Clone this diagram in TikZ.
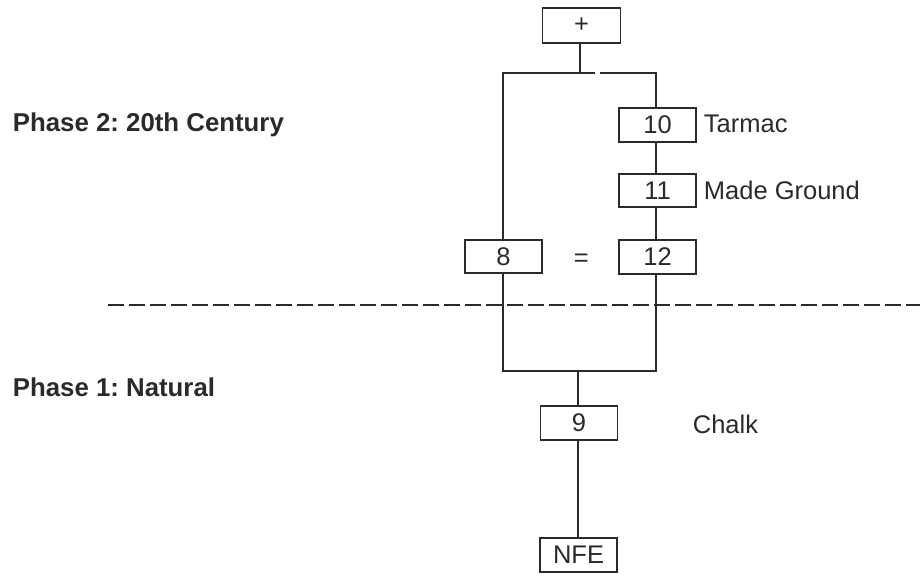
\documentclass[tikz,border=0pt]{standalone}
\usepackage{fontspec}
\setmainfont{Liberation Sans}
\frenchspacing
\definecolor{ink}{HTML}{2A2A2A}
\begin{document}
\begin{tikzpicture}[x=1pt,y=-1pt, line width=1.8pt, draw=ink, text=ink,
  box/.style={draw=ink, minimum width=77pt, minimum height=33.5pt, inner sep=0pt, font=\fontsize{25.5}{30}\selectfont},
  lbl/.style={anchor=base west, inner sep=0pt, font=\fontsize{25.5}{30}\selectfont},
  phase/.style={anchor=base west, inner sep=0pt, font=\bfseries\fontsize{25.8}{30}\selectfont},
  divider/.style={line width=1.3pt, dash pattern=on 16pt off 5pt}]
\useasboundingbox (0,0) rectangle (920,577);
% boxes
\node[box, minimum width=78pt, minimum height=35pt] (plus) at (581.5,25.5) {+};
\node[box] (b10) at (657.5,125) {10};
\node[box] (b11) at (657.5,190.5) {11};
\node[box] (b8) at (503.5,256.5) {8};
\node[box] (b12) at (657.5,257) {12};
\node[box] (b9) at (579,423) {9};
\node[box] (nfe) at (578.5,555) {NFE};
% labels
\node[lbl] (eq) at (573,266) {=};
\node[lbl] (tarmac) at (703,133) {Tarmac};
\node[lbl] (made) at (703,200) {Made Ground};
\node[lbl] (chalk) at (692,433) {Chalk};
\node[phase] (p2) at (12,132) {Phase 2: 20th Century};
\node[phase] (p1) at (12,396) {Phase 1: Natural};
% junction coordinates
\coordinate (tl) at (503,73);
\coordinate (tr) at (656,73);
\coordinate (g1) at (595,73);
\coordinate (g2) at (600,73);
\coordinate (bl) at (503,371);
\coordinate (br) at (656,371);
\coordinate (dl) at (108,305);
\coordinate (dr) at (920,305);
% connectors
\draw (plus.south -| 580,0) -- (580,73);
\draw (b8.north -| tl) -- (tl) -- (g1);
\draw (g2) -- (tr) -- (b10.north -| tr);
\draw (b10.south -| tr) -- (b11.north -| tr);
\draw (b11.south -| tr) -- (b12.north -| tr);
\draw (b8.south -| bl) -- (bl) -- (br) -- (b12.south -| br);
\draw (578,0 |- b9.north) -- (578,371);
\draw (578,0 |- b9.south) -- (578,0 |- nfe.north);
\draw[divider] (dl) -- (dr);
\end{tikzpicture}
\end{document}
